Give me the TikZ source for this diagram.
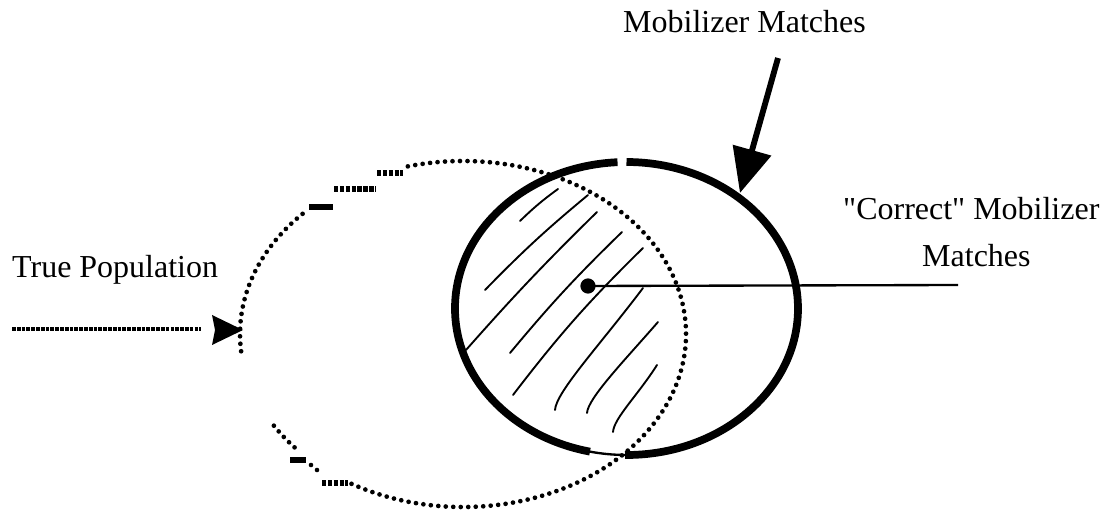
\documentclass[tikz,border=0pt]{standalone}
\usepackage{fontspec}
\setmainfont{Liberation Serif}[Ligatures=TeXOff]
\usetikzlibrary{arrows.meta,calc}
\tikzset{
  lbl/.style={inner sep=0pt,anchor=base west,font=\fontsize{27.3}{30}\selectfont},
  dotline/.style={line width=4pt,dash pattern=on 0pt off 6.4pt,line cap=round},
  sqline/.style={line width=5pt,dash pattern=on 3.8pt off 1.2pt},
  solidell/.style={line width=6.6pt},
  thinell/.style={line width=2pt},
  hatch/.style={line width=1.6pt,line cap=round},
  bigarrow/.style={line width=5pt,-{Triangle[length=38pt,width=33pt]}},
  poparrow/.style={line width=4.2pt,dash pattern=on 3.2pt off 0.9pt},
}
\begin{document}
\begin{tikzpicture}[x=0.03cm,y=0.03cm]
\useasboundingbox (0,0) rectangle (1108,-512);
% centres
\coordinate (dc) at (463,-334);
\coordinate (sc) at (626.5,-308.5);
% labels
\node[lbl] (mm) at (623,-33) {Mobilizer Matches};
\node[lbl] (tp) at (12,-278) {True Population};
\node[lbl] (cm) at (843,-220) {"Correct" Mobilizer};
\node[lbl] (cm2) at (922,-267) {Matches};
% hatching
\draw[hatch] (520,-221) to[bend left=4] (558,-189);
\draw[hatch] (485,-290) to[bend left=3] (588,-195);
\draw[hatch] (466,-350) to[bend left=2] (597,-212);
\draw[hatch] (510,-353) to[bend left=3] (622,-232);
\draw[hatch] (513,-395) to[bend left=4] (643,-248);
\draw[hatch] (555,-410) .. controls (556,-392) and (600,-345) .. (643,-288);
\draw[hatch] (587,-413) .. controls (588,-398) and (625,-360) .. (658,-322);
\draw[hatch] (613,-432) .. controls (614,-418) and (638,-395) .. (657,-365);
% solid ellipse (mobilizer matches)
\draw[solidell] ($(sc)+(93:171.5 and 146.5)$) arc[start angle=93,end angle=257.7,x radius=171.5,y radius=146.5];
\draw[thinell] ($(sc)+(257.7:171.5 and 146.5)$) arc[start angle=257.7,end angle=269.5,x radius=171.5,y radius=146.5];
\draw[solidell] ($(sc)+(269.5:171.5 and 146.5)$) arc[start angle=269.5,end angle=450,x radius=171.5,y radius=146.5];
% dotted ellipse (true population)
\draw[dotline] ($(dc)+(212:223 and 173)$) arc[start angle=212,end angle=222,x radius=223,y radius=173];
\draw[dotline] ($(dc)+(240:223 and 173)$) arc[start angle=240,end angle=466,x radius=223,y radius=173];
\draw[dotline] ($(dc)+(136:223 and 173)$) arc[start angle=136,end angle=187,x radius=223,y radius=173];
% stepped dashes on the dotted ellipse
\coordinate (s1a) at (309,-207); \coordinate (s1b) at (333,-207);
\coordinate (s2a) at (334,-189); \coordinate (s2b) at (376,-189);
\coordinate (s3a) at (377,-173); \coordinate (s3b) at (403,-173);
\coordinate (s4a) at (290,-460); \coordinate (s4b) at (306,-460);
\coordinate (s5a) at (322,-483); \coordinate (s5b) at (348,-483);
\draw[line width=5.4pt] (s1a) -- (s1b);
\draw[sqline] (s2a) -- (s2b);
\draw[sqline] (s3a) -- (s3b);
\draw[line width=5.4pt] (s4a) -- (s4b);
\draw[sqline] (s5a) -- (s5b);
\coordinate (d1) at (311,-465); \coordinate (d2) at (317,-470);
\fill (d1) circle (2.3); \fill (d2) circle (2.3);
% correct mobilizer matches marker
\node[circle,fill,inner sep=0pt,minimum size=13pt] (dot) at (588,-286) {};
\coordinate (lineend) at (958,-285);
\draw[line width=2pt] (dot.center) -- (lineend);
% mobilizer arrow
\coordinate (mstart) at (778,-58);
\coordinate (mtip) at (740,-193);
\draw[bigarrow] (mstart) -- (mtip);
% true population arrow
\coordinate (pstart) at (12,-329);
\coordinate (pend) at (201,-329);
\coordinate (ptip) at (243,-330);
\draw[poparrow] (pstart) -- (pend);
\fill (ptip) -- ++(-31,15) -- ++(3,-15) -- ++(-3,-15) -- cycle;
\end{tikzpicture}
\end{document}
